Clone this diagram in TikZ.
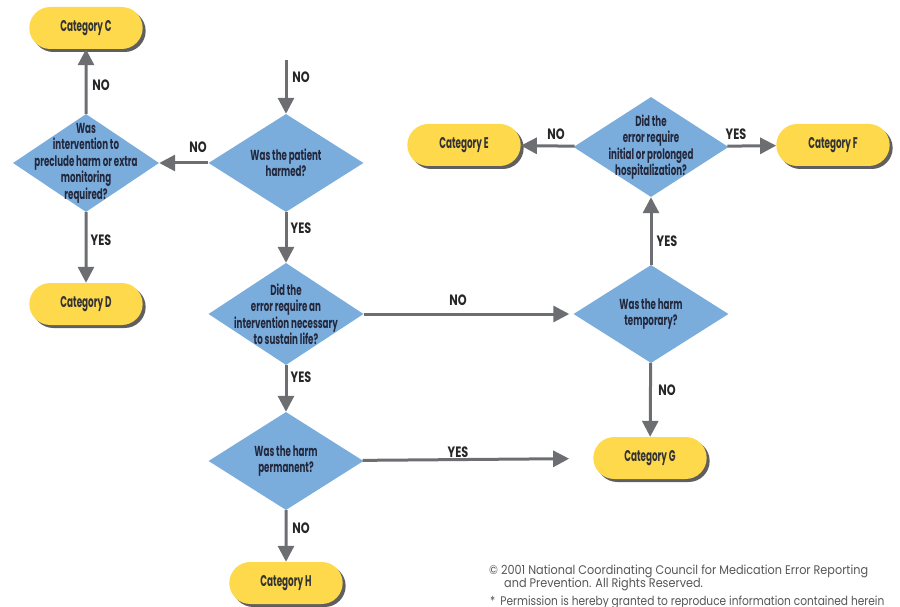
\documentclass[tikz,border=0pt]{standalone}
\usepackage{fontspec}
\usepackage{xcolor}
\newfontfamily\condfont[FakeStretch=0.6]{Poppins}
\newfontfamily\pillfont[FakeStretch=0.57]{Poppins}
\newfontfamily\labelfont[FakeStretch=0.75]{Poppins}
\newfontfamily\notefont[FakeStretch=0.9]{Poppins}
\newfontfamily\permfont[FakeStretch=0.85]{Poppins}
\usepackage{tikz}
\usetikzlibrary{positioning, shapes, arrows.meta, shadows}

\definecolor{pillyellow}{RGB}{253,217,75}
\definecolor{qblue}{RGB}{122,172,220}
\definecolor{arrowgray}{RGB}{109,110,113}
\definecolor{shadowgray}{RGB}{95,95,95}
\definecolor{qtext}{RGB}{35,40,60}
\definecolor{notegray}{RGB}{85,85,85}

\tikzset{
  category/.style={rounded rectangle, fill=pillyellow, minimum width=120pt, minimum height=42pt,
    drop shadow={shadow xshift=3pt, shadow yshift=-3pt, fill=shadowgray, opacity=1},
    font=\pillfont\bfseries\fontsize{15.5}{15.5}\selectfont, text=black!80},
  decision/.style={diamond, fill=qblue, minimum width=155pt, minimum height=98pt, inner sep=0pt},
  qlab/.style={align=center, inner sep=0pt, font=\condfont\bfseries\fontsize{14.5}{16.5}\selectfont, text=qtext},
  lab/.style={font=\labelfont\bfseries\fontsize{15}{15}\selectfont, text=black!85},
  note/.style={anchor=west, inner sep=0pt, font=\notefont\fontsize{12.5}{13}\selectfont, text=notegray},
  flow/.style={draw=arrowgray, line width=3pt, -{Triangle[length=16pt, width=16pt]}}
}

\begin{document}
\begin{tikzpicture}[x=1pt, y=-1pt]
  \useasboundingbox (0,0) rectangle (900,607);

  % outcomes
  \node[category] (catC) at (86,28) {Category C};
  \node[category] (catD) at (86,304) {Category D};
  \node[category] (catE) at (464,145) {Category E};
  \node[category] (catF) at (833,145) {Category F};
  \node[category] (catG) at (650,458) {Category G};
  \node[category] (catH) at (286,583) {Category H};

  % questions
  \node[decision, minimum width=146pt, label={[qlab]center:Was\\intervention to\\preclude harm or extra\\monitoring\\required?}] (qextra) at (86,163) {};
  \node[decision, label={[qlab]center:Was the patient\\harmed?}] (qharmed) at (286,163) {};
  \node[decision, minimum height=102pt, label={[qlab]center:Did the\\error require an\\intervention necessary\\to sustain life?}] (qlife) at (286,314) {};
  \node[decision, label={[qlab]center:Was the harm\\permanent?}] (qperm) at (286,461) {};
  \node[decision, label={[qlab]center:Was the harm\\temporary?}] (qtemp) at (651,314) {};
  \node[decision, minimum height=100pt, label={[qlab]center:Did the\\error require\\initial or prolonged\\hospitalization?}] (qhosp) at (651,147) {};

  \coordinate (start) at (286,60);

  % connectors
  \draw[flow] (start) -- (qharmed);
  \draw[flow] (qharmed) -- (qextra);
  \draw[flow] (qextra) -- (catC);
  \draw[flow] (qextra) -- (catD);
  \draw[flow] (qharmed) -- (qlife);
  \draw[flow] (qlife) -- (qperm);
  \draw[flow] (qperm) -- (catH);
  \draw[flow, shorten >=4pt] (qlife) -- (qtemp);
  \draw[flow, shorten >=24pt] (qperm) -- (catG);
  \draw[flow] (qtemp) -- (catG);
  \draw[flow] (qtemp) -- (qhosp);
  \draw[flow] (qhosp) -- (catE);
  \draw[flow] (qhosp) -- (catF);

  % answers
  \node[lab] (noStart) at (301,77) {NO};
  \node[lab] (noC) at (101,85) {NO};
  \node[lab] (yesD) at (101,240) {YES};
  \node[lab] (noExtra) at (198,147) {NO};
  \node[lab] (yesLife) at (301,228) {YES};
  \node[lab] (yesPerm) at (301,377) {YES};
  \node[lab] (noH) at (301,528) {NO};
  \node[lab] (noTemp) at (458,300) {NO};
  \node[lab] (yesG) at (458,452) {YES};
  \node[lab] (noG) at (667,390) {NO};
  \node[lab] (yesHosp) at (667,241) {YES};
  \node[lab] (noE) at (556,134) {NO};
  \node[lab] (yesF) at (736,134) {YES};

  % footnote
  \node[note] (copyr) at (489,571) {© 2001 National Coordinating Council for Medication Error Reporting};
  \node[note] (rights) at (504,584) {and Prevention. All Rights Reserved.};
  \node[note, font=\permfont\fontsize{12.5}{13}\selectfont] (permit) at (490,602) {*\hspace{5pt}Permission is hereby granted to reproduce information contained herein};
\end{tikzpicture}
\end{document}
